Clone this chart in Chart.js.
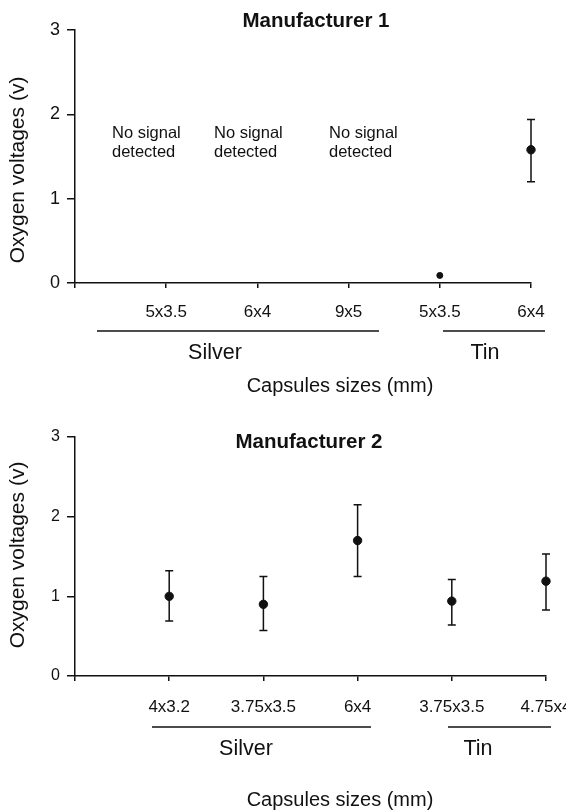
<!DOCTYPE html>
<html>
<head>
<meta charset="utf-8">
<script src="https://cdn.jsdelivr.net/npm/chart.js@4/dist/chart.umd.min.js"></script>
<style>
    html, body { margin: 0; padding: 0; background: #fff; }
    #wrap { position: relative; width: 566px; height: 811px; }
    canvas { position: absolute; left: 0; }
</style>
</head>
<body>
<div id="wrap">
    <canvas id="chart-m1" width="566" height="400" style="top:0"></canvas>
    <canvas id="chart-m2" width="566" height="411" style="top:400px"></canvas>
</div>
<script>
// ---- data ----
const m1Sizes = ['5x3.5', '6x4', '9x5', '5x3.5', '6x4'];
const m1Mean = [null, null, null, 0.09, 1.58];
const m1Low = [null, null, null, null, 1.20];
const m1High = [null, null, null, null, 1.94];

const m2Sizes = ['4x3.2', '3.75x3.5', '6x4', '3.75x3.5', '4.75x4'];
const m2Mean = [1.00, 0.90, 1.70, 0.94, 1.19];
const m2Low = [0.69, 0.57, 1.25, 0.64, 0.83];
const m2High = [1.32, 1.25, 2.15, 1.21, 1.53];

const groupNames = ['Silver', 'Tin'];
const noSignalText = ['No signal', 'detected'];
const yTitle = 'Oxygen voltages (v)';
const xTitle = 'Capsules sizes (mm)';

const FONT = '"Liberation Sans", Arial, Helvetica, sans-serif';
const INK = '#111';

// error bars drawn from the low/high arrays through the chart's scales
const errorBars = {
    id: 'errorBars',
    beforeDatasetsDraw(chart, args, opts) {
        const { ctx, scales: { x, y } } = chart;
        ctx.save();
        ctx.strokeStyle = INK;
        ctx.lineWidth = 1.5;
        opts.low.forEach((lo, i) => {
            const hi = opts.high[i];
            if (lo == null || hi == null) return;
            const px = x.getPixelForValue(i + 1);
            const y1 = y.getPixelForValue(lo);
            const y2 = y.getPixelForValue(hi);
            ctx.beginPath();
            ctx.moveTo(px, y1); ctx.lineTo(px, y2);
            ctx.moveTo(px - 4, y1); ctx.lineTo(px + 4, y1);
            ctx.moveTo(px - 4, y2); ctx.lineTo(px + 4, y2);
            ctx.stroke();
        });
        ctx.restore();
    },
};

// titles, group brackets and notes
const decor = {
    id: 'decor',
    afterDraw(chart, args, o) {
        const { ctx } = chart;
        ctx.save();
        ctx.fillStyle = INK;
        ctx.textBaseline = 'middle';
        ctx.textAlign = 'center';

        ctx.font = `bold 20.5px ${FONT}`;
        ctx.fillText(o.title, o.titleX, o.titleY);

        ctx.font = `20px ${FONT}`;
        ctx.fillText(xTitle, 340, o.xTitleY);

        ctx.save();
        ctx.font = `21px ${FONT}`;
        ctx.translate(18, o.yTitleY);
        ctx.rotate(-Math.PI / 2);
        ctx.fillText(yTitle, 0, 0);
        ctx.restore();

        ctx.strokeStyle = INK;
        ctx.lineWidth = 1.5;
        o.brackets.forEach((b, i) => {
            ctx.beginPath();
            ctx.moveTo(b[0], o.bracketY);
            ctx.lineTo(b[1], o.bracketY);
            ctx.stroke();
            ctx.font = `21.5px ${FONT}`;
            ctx.fillText(groupNames[i], b[2], o.groupY);
        });

        if (o.notes) {
            ctx.font = `16.5px ${FONT}`;
            ctx.textAlign = 'left';
            o.notes.forEach(nx => {
                ctx.fillText(noSignalText[0], nx, 133);
                ctx.fillText(noSignalText[1], nx, 152);
            });
        }
        ctx.restore();
    },
};

function makeChart(id, sizes, mean, low, high, layout) {
    const points = mean.map((v, i) => (v == null ? null : { x: i + 1, y: v })).filter(p => p);
    return new Chart(document.getElementById(id), {
        type: 'scatter',
        data: {
            datasets: [{
                data: points,
                clip: false,
                backgroundColor: INK,
                borderColor: INK,
                pointRadius: ctx => (ctx.raw && ctx.raw.y < 0.2 ? 3 : 4.2),
                pointHoverRadius: 4,
            }],
        },
        plugins: [errorBars, decor],
        options: {
            responsive: false,
            animation: false,
            events: [],
            layout: { padding: { left: 0, top: layout.top, right: layout.right, bottom: 0 } },
            plugins: {
                legend: { display: false },
                tooltip: { enabled: false },
                errorBars: { low, high },
                decor: layout.decor,
            },
            scales: {
                x: {
                    type: 'linear',
                    min: 0,
                    max: 5,
                    afterFit: s => { s.height = layout.xHeight; s.paddingLeft = 0; s.paddingRight = 0; },
                    afterBuildTicks: s => { s.ticks = [0, 1, 2, 3, 4, 5].map(v => ({ value: v })); },
                    ticks: {
                        autoSkip: false,
                        maxRotation: 0,
                        color: INK,
                        padding: layout.xPad,
                        font: { family: FONT, size: 17 },
                        callback: v => sizes[v - 1] || '',
                    },
                    grid: { drawOnChartArea: false, tickLength: 5, color: INK, lineWidth: 1.5 },
                    border: { color: INK, width: 1.5 },
                },
                y: {
                    min: 0,
                    max: 3,
                    afterFit: s => { s.width = 75; s.paddingTop = 0; s.paddingBottom = 0; },
                    ticks: {
                        stepSize: 1,
                        color: INK,
                        padding: 7,
                        font: { family: FONT, size: layout.yFont },
                    },
                    grid: { drawOnChartArea: false, tickLength: 8, color: INK, lineWidth: 1.5 },
                    border: { color: INK, width: 1.5 },
                },
            },
        },
    });
}

makeChart('chart-m1', m1Sizes, m1Mean, m1Low, m1High, {
    top: 30, right: 35, xHeight: 117, xPad: 14, yFont: 18,
    decor: {
        title: 'Manufacturer 1', titleX: 316, titleY: 21,
        xTitleY: 386, yTitleY: 170,
        bracketY: 331, groupY: 353,
        brackets: [[97, 379, 215], [443, 545, 485]],
        notes: [112, 214, 329],
    },
});

makeChart('chart-m2', m2Sizes, m2Mean, m2Low, m2High, {
    top: 37, right: 20, xHeight: 135, xPad: 16, yFont: 16,
    decor: {
        title: 'Manufacturer 2', titleX: 309, titleY: 42,
        xTitleY: 400, yTitleY: 155,
        bracketY: 327, groupY: 349,
        brackets: [[152, 371, 246], [448, 551, 478]],
        notes: null,
    },
});
</script>
</body>
</html>
